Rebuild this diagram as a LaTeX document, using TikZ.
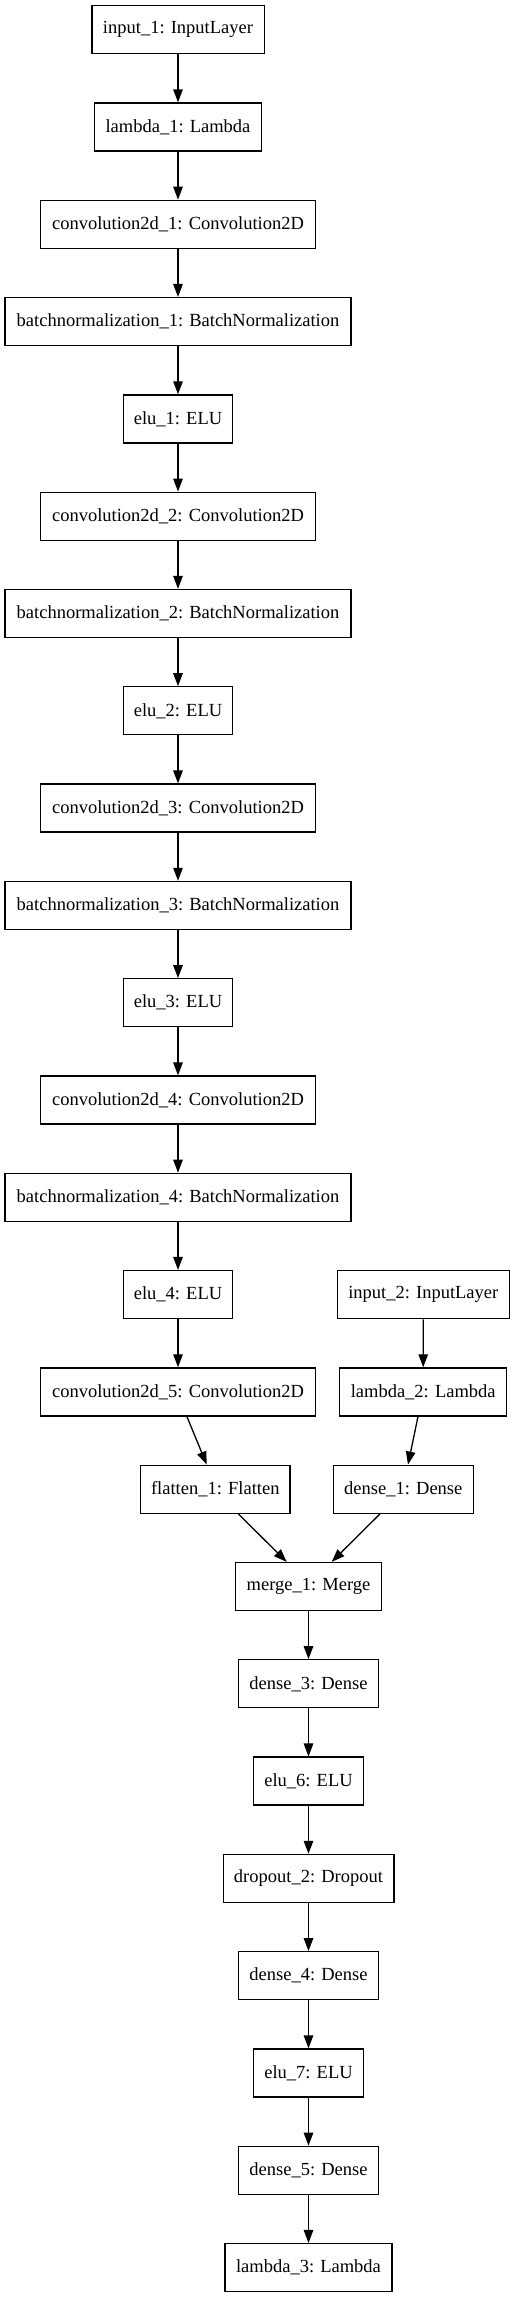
\documentclass[tikz,border=0pt]{standalone}
\usepackage{fontspec}
\setmainfont{Liberation Serif}
\usetikzlibrary{arrows.meta}
\begin{document}
\begin{tikzpicture}[x=1pt,y=1pt,
  layer/.style={draw=black,line width=1.3pt,rectangle,minimum height=48pt,inner sep=0pt,
    font=\fontsize{18.5}{22}\selectfont},
  edge/.style={line width=1.3pt,-{Triangle[length=13pt,width=9.5pt]}}]
\useasboundingbox (0,0) rectangle (515,-2299);
\def\rowy#1{-(29.7+97.3*#1)}
% main column
\node[layer,minimum width=172.3pt] (in1) at (178,{-(29.7+97.3*0)}) {input\_1: InputLayer};
\node[layer,minimum width=167pt] (lam1) at (178,{-(29.7+97.3*1)}) {lambda\_1: Lambda};
\node[layer,minimum width=275pt] (c1) at (178,{-(29.7+97.3*2)}) {convolution2d\_1: Convolution2D};
\node[layer,minimum width=346pt] (b1) at (178,{-(29.7+97.3*3)}) {batchnormalization\_1: BatchNormalization};
\node[layer,minimum width=109.4pt] (e1) at (178,{-(29.7+97.3*4)}) {elu\_1: ELU};
\node[layer,minimum width=275pt] (c2) at (178,{-(29.7+97.3*5)}) {convolution2d\_2: Convolution2D};
\node[layer,minimum width=346pt] (b2) at (178,{-(29.7+97.3*6)}) {batchnormalization\_2: BatchNormalization};
\node[layer,minimum width=109.4pt] (e2) at (178,{-(29.7+97.3*7)}) {elu\_2: ELU};
\node[layer,minimum width=275pt] (c3) at (178,{-(29.7+97.3*8)}) {convolution2d\_3: Convolution2D};
\node[layer,minimum width=346pt] (b3) at (178,{-(29.7+97.3*9)}) {batchnormalization\_3: BatchNormalization};
\node[layer,minimum width=109.4pt] (e3) at (178,{-(29.7+97.3*10)}) {elu\_3: ELU};
\node[layer,minimum width=275pt] (c4) at (178,{-(29.7+97.3*11)}) {convolution2d\_4: Convolution2D};
\node[layer,minimum width=346pt] (b4) at (178,{-(29.7+97.3*12)}) {batchnormalization\_4: BatchNormalization};
\node[layer,minimum width=109.4pt] (e4) at (178,{-(29.7+97.3*13)}) {elu\_4: ELU};
\node[layer,minimum width=275pt] (c5) at (178,{-(29.7+97.3*14)}) {convolution2d\_5: Convolution2D};
\node[layer,minimum width=149.3pt] (fl) at (215.3,{-(29.7+97.3*15)}) {flatten\_1: Flatten};
% right column
\node[layer,minimum width=172pt] (in2) at (423.3,{-(29.7+97.3*13)}) {input\_2: InputLayer};
\node[layer,minimum width=167pt] (lam2) at (423.2,{-(29.7+97.3*14)}) {lambda\_2: Lambda};
\node[layer,minimum width=140pt] (d1) at (403.3,{-(29.7+97.3*15)}) {dense\_1: Dense};
% lower column
\node[layer,minimum width=145.6pt] (mg) at (308.5,{-(29.7+97.3*16)}) {merge\_1: Merge};
\node[layer,minimum width=140.2pt] (d3) at (308.5,{-(29.7+97.3*17)}) {dense\_3: Dense};
\node[layer,minimum width=109.6pt] (e6) at (308.5,{-(29.7+97.3*18)}) {elu\_6: ELU};
\node[layer,minimum width=170.7pt] (dp) at (308.5,{-(29.7+97.3*19)}) {dropout\_2: Dropout};
\node[layer,minimum width=140.2pt] (d4) at (308.5,{-(29.7+97.3*20)}) {dense\_4: Dense};
\node[layer,minimum width=109.6pt] (e7) at (308.5,{-(29.7+97.3*21)}) {elu\_7: ELU};
\node[layer,minimum width=140.2pt] (d5) at (308.5,{-(29.7+97.3*22)}) {dense\_5: Dense};
\node[layer,minimum width=167pt] (lam3) at (308.5,{-(29.7+97.3*23)}) {lambda\_3: Lambda};
% edges
\foreach \a/\b in {in1/lam1,lam1/c1,c1/b1,b1/e1,e1/c2,c2/b2,b2/e2,e2/c3,c3/b3,b3/e3,e3/c4,c4/b4,b4/e4,e4/c5,in2/lam2,mg/d3,d3/e6,e6/dp,dp/d4,d4/e7,e7/d5,d5/lam3}
  \draw[edge] (\a.south) -- (\b.north);
\draw[edge] ([xshift=8.9pt]c5.south) -- ([xshift=-8.6pt]fl.north);
\draw[edge] ([xshift=-5.2pt]lam2.south) -- ([xshift=4.7pt]d1.north);
\draw[edge] ([xshift=23pt]fl.south) -- ([xshift=-21.8pt]mg.north);
\draw[edge] ([xshift=-23.3pt]d1.south) -- ([xshift=23.2pt]mg.north);
\end{tikzpicture}
\end{document}
